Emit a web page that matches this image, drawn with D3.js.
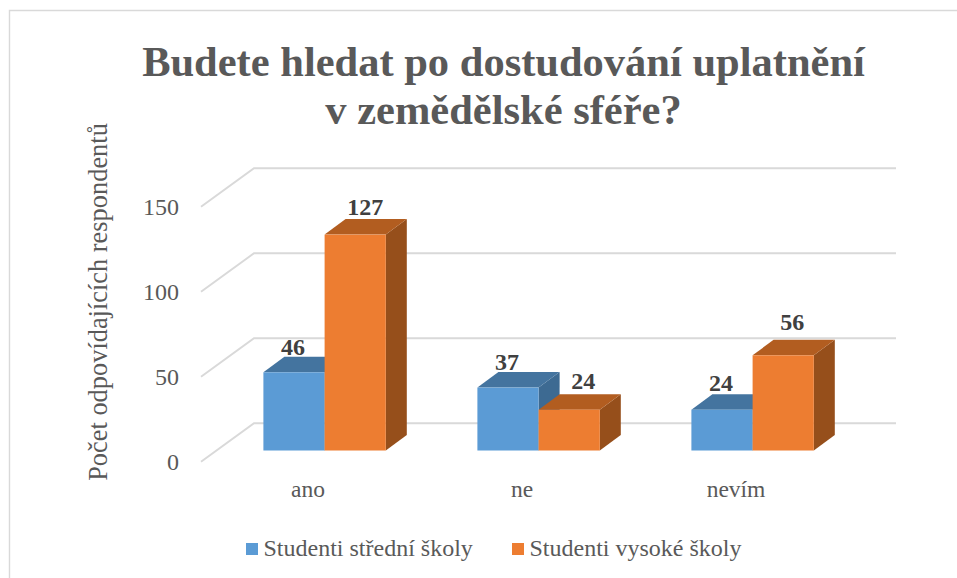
<!DOCTYPE html>
<html lang="cs"><head><meta charset="utf-8">
<script src="https://cdn.jsdelivr.net/npm/d3@7"></script>
<style>html,body{margin:0;padding:0;background:#fff;overflow:hidden}svg{display:block}text{font-family:"Liberation Serif",serif}</style>
</head><body><svg id="c" width="957" height="578"></svg>
<script>
const categories = ["ano", "ne", "nevím"];
const seriesNames = ["Studenti střední školy", "Studenti vysoké školy"];
const highSchool = [46, 37, 24];
const university = [127, 24, 56];
const yTicks = [0, 50, 100, 150];
const titleLines = ["Budete hledat po dostudování uplatnění", "v zemědělské sféře?"];
const yTitle = "Počet odpovídajících respondentů";
const palette = [
  {front:"#5b9bd5", top:"#44749f", side:"#3d6a92"},
  {front:"#ed7d31", top:"#b25d20", side:"#964f1b"}
];
const labelDx = [[-1,10],[-1,14],[-1,9]];
const labelDy = [[-2,-4],[-2,-5],[-3,-10]];

const svg = d3.select("#c");
const values = [highSchool, university];
const y = d3.scaleLinear().domain([0,150]).range([461.7,206.7]);
const x0 = d3.scaleBand().domain(categories).range([201,843]);
const barW = 61.2;
const x1 = d3.scaleBand().domain(seriesNames).range([0,barW*2]);
const floor = {dx:53, dy:-38.4, right:896};
const bar = {ox:16.6, oy:-11.2, dx:21, dy:-15.5};

// outer frame
svg.append("path").attr("d","M9.5,578V10.5H957").attr("fill","none").attr("stroke","#d9d9d9").attr("stroke-width",1.4);

// gridlines: wall + floor perspective
svg.append("g").selectAll("path").data(yTicks).join("path")
  .attr("d",v=>`M${x0.range()[0]},${y(v)}L${x0.range()[0]+floor.dx},${y(v)+floor.dy}H${floor.right}`)
  .attr("fill","none").attr("stroke","#d9d9d9").attr("stroke-width",2);

// value axis
const ax = svg.append("g").attr("transform","translate(187,0)")
  .call(d3.axisLeft(y).tickValues(yTicks).tickSize(0).tickPadding(8));
ax.select(".domain").remove();
ax.selectAll("text").attr("font-size",24).attr("fill","#595959").style("font-family",'"Liberation Serif",serif');

// bars
categories.forEach((c,i)=>{
  const g = svg.append("g");
  seriesNames.forEach((s,j)=>{
    const v = values[j][i], col = palette[j];
    const L = x0(c)+bar.ox+x1(s)+(x0.bandwidth()-barW*2)/2, R = L+x1.bandwidth();
    const B = y(0)+bar.oy, T = y(v)+bar.oy;
    const b = g.append("g");
    b.append("path").attr("fill",col.side)
      .attr("d",`M${R},${T}l${bar.dx},${bar.dy}V${B+bar.dy}L${R},${B}Z`);
    b.append("path").attr("fill",col.top)
      .attr("d",`M${L},${T}l${bar.dx},${bar.dy}H${R+bar.dx}L${R},${T}Z`);
    b.append("rect").attr("x",L).attr("y",T).attr("width",R-L).attr("height",B-T).attr("fill",col.front);
  });
  seriesNames.forEach((s,j)=>{
    const v = values[j][i];
    const L = x0(c)+bar.ox+x1(s)+(x0.bandwidth()-barW*2)/2;
    g.append("text").text(v)
      .attr("x",L+x1.bandwidth()/2+labelDx[i][j])
      .attr("y",y(v)+bar.oy+bar.dy+labelDy[i][j])
      .attr("text-anchor","middle").attr("font-size",24).attr("font-weight","bold").attr("fill","#404040");
  });
});

// category labels
svg.append("g").selectAll("text").data(categories).join("text")
  .text(d=>d).attr("x",d=>x0(d)+x0.bandwidth()/2).attr("y",497)
  .attr("text-anchor","middle").attr("font-size",23.5).attr("fill","#595959");

// title
svg.append("g").selectAll("text").data(titleLines).join("text")
  .text(d=>d).attr("x",503.5).attr("y",(d,i)=>76+i*48)
  .attr("text-anchor","middle").attr("font-size",42.5).attr("font-weight","bold").attr("fill","#595959");

// axis title
svg.append("text").text(yTitle).attr("transform","translate(107,302) rotate(-90)")
  .attr("text-anchor","middle").attr("font-size",26.4).attr("fill","#595959");

// legend
const legendX = [246,512];
const leg = svg.append("g").selectAll("g").data(seriesNames).join("g")
  .attr("transform",(d,i)=>`translate(${legendX[i]},0)`);
leg.append("rect").attr("y",543).attr("width",12).attr("height",12).attr("fill",(d,i)=>palette[i].front);
leg.append("text").text(d=>d).attr("x",17.5).attr("y",556).attr("font-size",24).attr("fill","#595959");
</script></body></html>
